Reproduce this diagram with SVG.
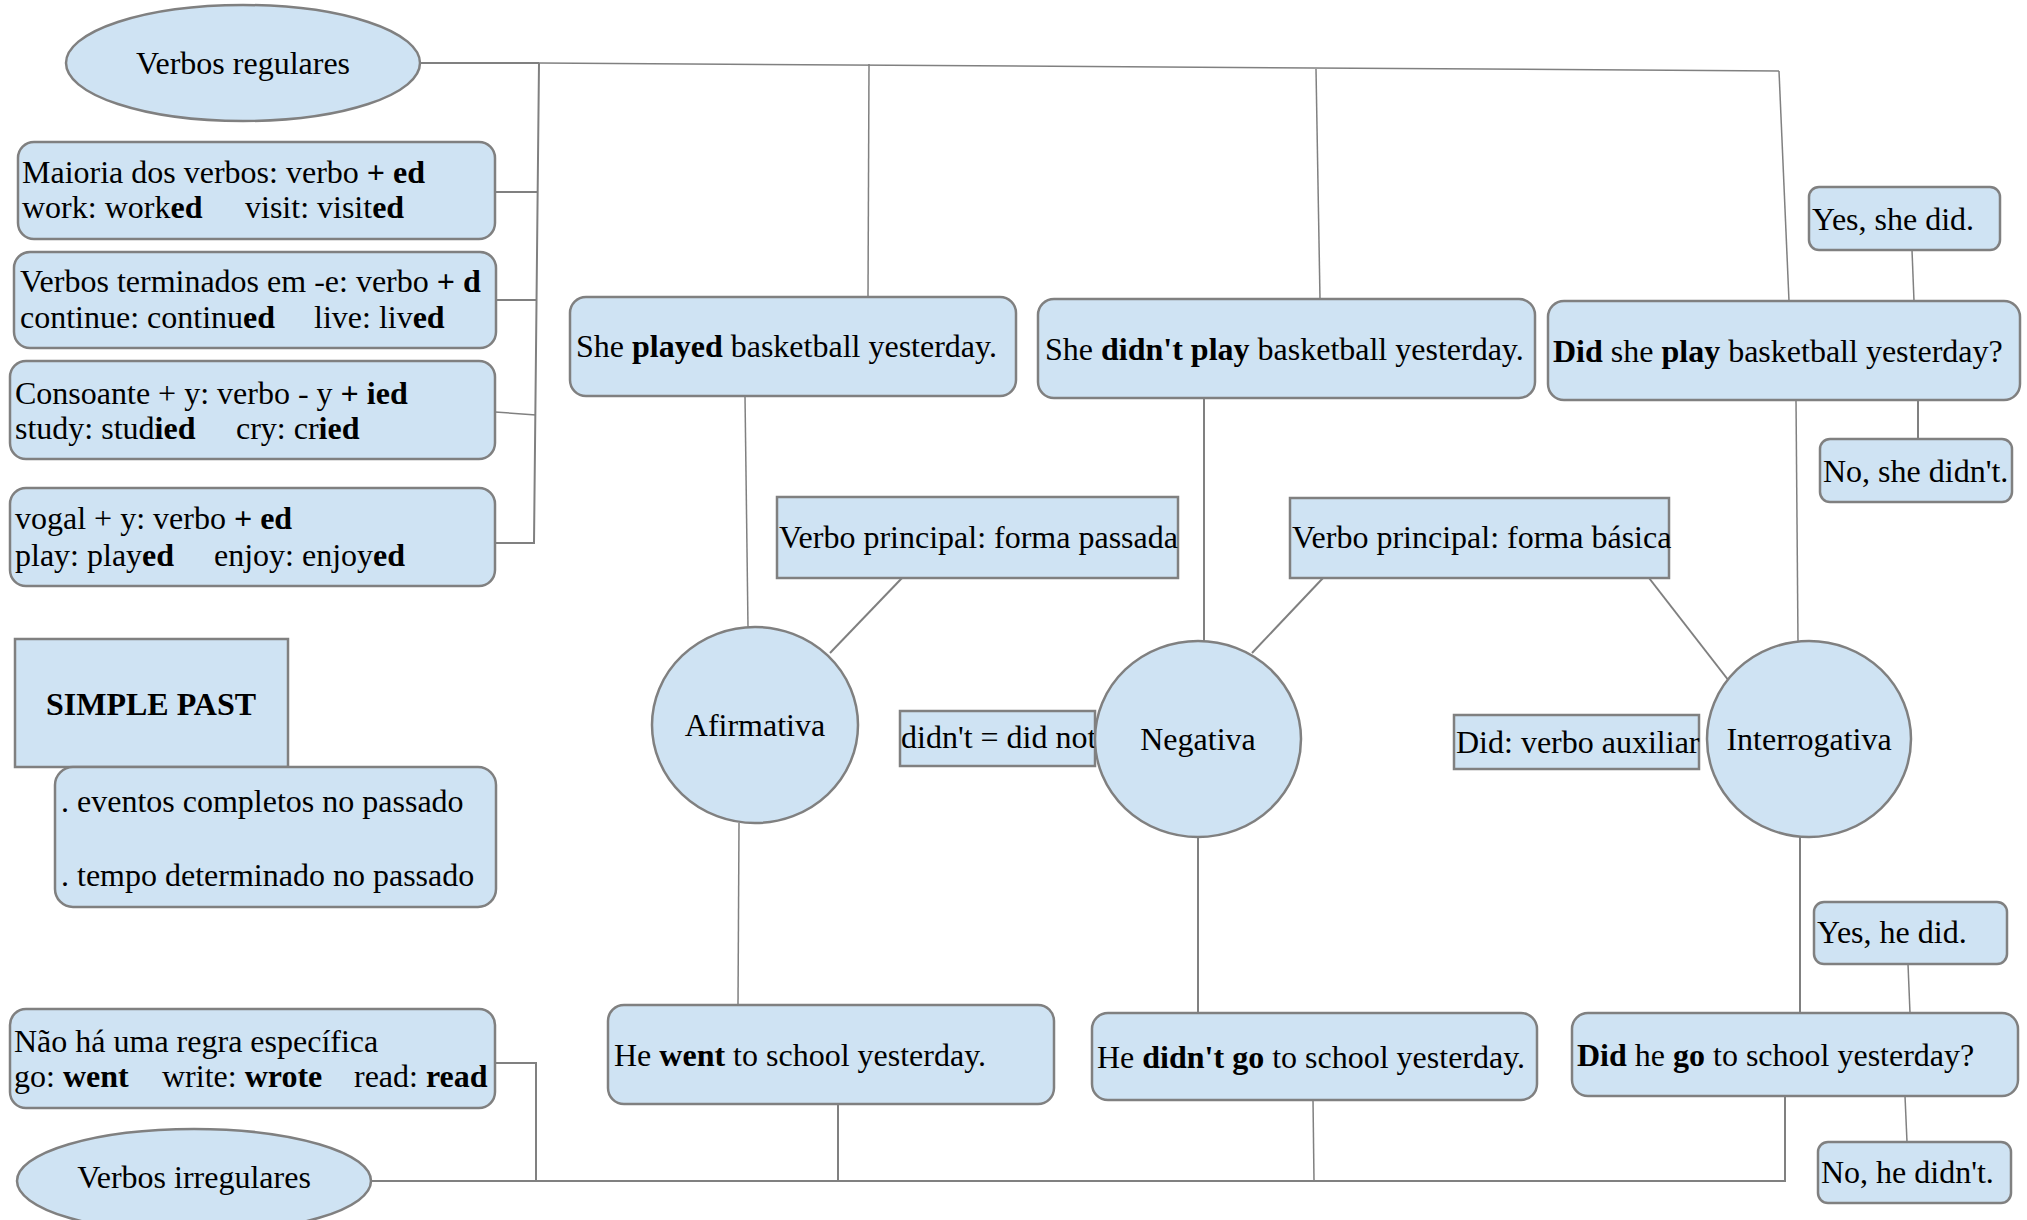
<svg xmlns="http://www.w3.org/2000/svg" width="2027" height="1220" viewBox="0 0 2027 1220">
<style>
.n{fill:#cfe3f3;stroke:#808080;stroke-width:2.5}
.c{fill:none;stroke:#808080;stroke-width:2}
.t{fill:none;stroke:#808080;stroke-width:1.5}
text{font-family:"Liberation Serif","Times New Roman",serif;font-size:32px;fill:#000}
.b{font-weight:bold}
.m{text-anchor:middle}
</style>
<rect width="2027" height="1220" fill="#fff"/>
<g id="connectors">
<polyline class="c" points="419,63 539,63"/>
<line class="t" x1="539" y1="63" x2="1779" y2="71"/>
<line class="t" x1="1779" y1="71" x2="1789" y2="301"/>
<polyline class="c" points="495,543 534,543 539,63"/>
<line class="c" x1="495" y1="192" x2="537" y2="192"/>
<line class="c" x1="496" y1="300" x2="537" y2="300"/>
<line class="t" x1="495" y1="412" x2="536" y2="415"/>
<line class="t" x1="869" y1="64" x2="868" y2="297"/>
<line class="t" x1="745" y1="396" x2="748" y2="627"/>
<line class="t" x1="739" y1="823" x2="738" y2="1005"/>
<line class="c" x1="902" y1="578" x2="830" y2="653"/>
<line class="t" x1="1316" y1="69" x2="1320" y2="299"/>
<line class="c" x1="1204" y1="398" x2="1204" y2="641"/>
<line class="c" x1="1323" y1="578" x2="1252" y2="653"/>
<line class="c" x1="1649" y1="578" x2="1729" y2="681"/>
<line class="t" x1="1796" y1="400" x2="1798" y2="641"/>
<line class="t" x1="1912" y1="250" x2="1914" y2="301"/>
<line class="c" x1="1918" y1="400" x2="1918" y2="439"/>
<line class="c" x1="1800" y1="837" x2="1800" y2="1013"/>
<line class="t" x1="1908" y1="964" x2="1910" y2="1013"/>
<line class="t" x1="1905" y1="1096" x2="1907" y2="1142"/>
<line class="c" x1="1198" y1="837" x2="1198" y2="1013"/>
<polyline class="c" points="495,1063 536,1063 536,1181"/>
<polyline class="c" points="371,1181 1785,1181 1785,1096"/>
<line class="c" x1="838" y1="1104" x2="838" y2="1181"/>
<line class="t" x1="1313" y1="1100" x2="1314" y2="1181"/>
</g>
<g id="verbos-regulares"><ellipse class="n" cx="243" cy="63" rx="177" ry="58"/><text class="m" x="243" y="74">Verbos regulares</text></g>
<g id="maioria"><rect class="n" x="18" y="142" width="477" height="97" rx="16"/>
<text x="22" y="183">Maioria dos verbos: verbo <tspan class="b">+ ed</tspan></text>
<text y="218"><tspan x="22">work: work</tspan><tspan class="b">ed</tspan><tspan x="245">visit: visit</tspan><tspan class="b">ed</tspan></text></g>
<g id="terminados-e"><rect class="n" x="14" y="252" width="482" height="96" rx="16"/>
<text x="20" y="292">Verbos terminados em -e: verbo <tspan class="b">+ d</tspan></text>
<text y="328"><tspan x="20">continue: continu</tspan><tspan class="b">ed</tspan><tspan x="314">live: liv</tspan><tspan class="b">ed</tspan></text></g>
<g id="consoante-y"><rect class="n" x="10" y="361" width="485" height="98" rx="16"/>
<text x="15" y="404">Consoante + y: verbo - y <tspan class="b">+ ied</tspan></text>
<text y="439"><tspan x="15">study: stud</tspan><tspan class="b">ied</tspan><tspan x="236">cry: cr</tspan><tspan class="b">ied</tspan></text></g>
<g id="vogal-y"><rect class="n" x="10" y="488" width="485" height="98" rx="16"/>
<text x="15" y="529">vogal + y: verbo <tspan class="b">+ ed</tspan></text>
<text y="566"><tspan x="15">play: play</tspan><tspan class="b">ed</tspan><tspan x="214">enjoy: enjoy</tspan><tspan class="b">ed</tspan></text></g>
<g id="simple-past"><rect class="n" x="15" y="639" width="273" height="128"/><text class="b m" x="151" y="715">SIMPLE PAST</text></g>
<g id="definicao"><rect class="n" x="55" y="767" width="441" height="140" rx="18"/>
<text x="61" y="812">. eventos completos no passado</text>
<text x="61" y="886">. tempo determinado no passado</text></g>
<g id="irregular-regra"><rect class="n" x="10" y="1009" width="485" height="99" rx="16"/>
<text x="14" y="1052">Não há uma regra específica</text>
<text y="1087"><tspan x="14">go: </tspan><tspan class="b">went</tspan><tspan x="162">write: </tspan><tspan class="b">wrote</tspan><tspan x="354">read: </tspan><tspan class="b">read</tspan></text></g>
<g id="verbos-irregulares"><ellipse class="n" cx="194" cy="1181" rx="177" ry="52"/><text class="m" x="194" y="1188">Verbos irregulares</text></g>
<g id="she-played"><rect class="n" x="570" y="297" width="446" height="99" rx="16"/><text x="576" y="357">She <tspan class="b">played</tspan> basketball yesterday.</text></g>
<g id="she-didnt-play"><rect class="n" x="1038" y="299" width="497" height="99" rx="16"/><text x="1045" y="360">She <tspan class="b">didn't play</tspan> basketball yesterday.</text></g>
<g id="did-she-play"><rect class="n" x="1548" y="301" width="472" height="99" rx="16"/><text x="1553" y="362"><tspan class="b">Did</tspan> she <tspan class="b">play</tspan> basketball yesterday?</text></g>
<g id="yes-she-did"><rect class="n" x="1809" y="187" width="191" height="63" rx="10"/><text x="1812" y="230">Yes, she did.</text></g>
<g id="no-she-didnt"><rect class="n" x="1820" y="439" width="192" height="63" rx="10"/><text x="1823" y="482">No, she didn't.</text></g>
<g id="forma-passada"><rect class="n" x="777" y="497" width="401" height="81"/><text x="779" y="548">Verbo principal: forma passada</text></g>
<g id="forma-basica"><rect class="n" x="1290" y="498" width="379" height="80"/><text x="1292" y="548">Verbo principal: forma básica</text></g>
<g id="afirmativa"><ellipse class="n" cx="755" cy="725" rx="103" ry="98"/><text class="m" x="755" y="736">Afirmativa</text></g>
<g id="didnt-did-not"><rect class="n" x="900" y="711" width="195" height="55"/><text x="901" y="748">didn't = did not</text></g>
<g id="negativa"><ellipse class="n" cx="1198" cy="739" rx="103" ry="98"/><text class="m" x="1198" y="750">Negativa</text></g>
<g id="did-auxiliar"><rect class="n" x="1454" y="715" width="245" height="54"/><text x="1456" y="753">Did: verbo auxiliar</text></g>
<g id="interrogativa"><ellipse class="n" cx="1809" cy="739" rx="102" ry="98"/><text class="m" x="1809" y="750">Interrogativa</text></g>
<g id="he-went"><rect class="n" x="608" y="1005" width="446" height="99" rx="16"/><text x="614" y="1066">He <tspan class="b">went</tspan> to school yesterday.</text></g>
<g id="he-didnt-go"><rect class="n" x="1092" y="1013" width="445" height="87" rx="16"/><text x="1097" y="1068">He <tspan class="b">didn't go</tspan> to school yesterday.</text></g>
<g id="did-he-go"><rect class="n" x="1572" y="1013" width="446" height="83" rx="16"/><text x="1577" y="1066"><tspan class="b">Did</tspan> he <tspan class="b">go</tspan> to school yesterday?</text></g>
<g id="yes-he-did"><rect class="n" x="1814" y="902" width="193" height="62" rx="10"/><text x="1817" y="943">Yes, he did.</text></g>
<g id="no-he-didnt"><rect class="n" x="1818" y="1142" width="193" height="61" rx="10"/><text x="1821" y="1183">No, he didn't.</text></g>
</svg>
